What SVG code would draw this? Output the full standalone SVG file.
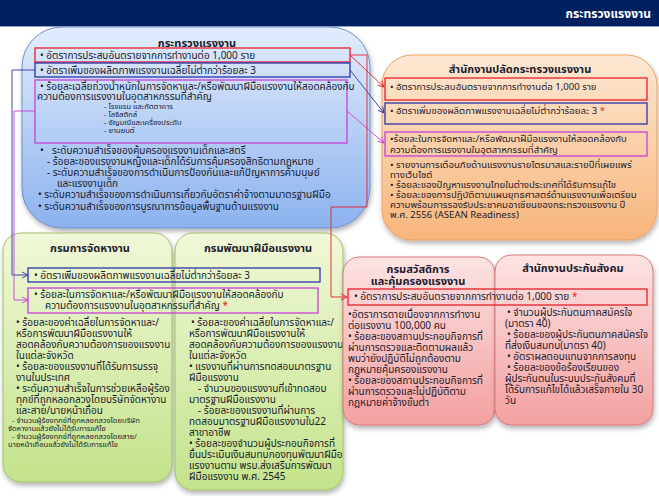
<svg xmlns="http://www.w3.org/2000/svg" width="659" height="496" viewBox="0 0 659 496">
<style>
.t{font-family:Tahoma,"Noto Sans Thai","Noto Sans Thai UI","Noto Sans","DejaVu Sans",sans-serif;font-size:10px;fill:#1c1c2c;}
.o{font-family:Tahoma,"Noto Sans Thai","Noto Sans Thai UI","Noto Sans","DejaVu Sans",sans-serif;font-size:9.6px;fill:#1c1c2c;}
.h{font-family:Tahoma,"Noto Sans Thai","Noto Sans Thai UI","Noto Sans","DejaVu Sans",sans-serif;font-size:11px;font-weight:bold;fill:#1c1c2c;}
.s{font-family:Tahoma,"Noto Sans Thai","Noto Sans Thai UI","Noto Sans","DejaVu Sans",sans-serif;font-size:7.6px;fill:#1c1c2c;}
.star{fill:#e8202a;}
.rb{fill:none;stroke:#e8202a;stroke-width:1.3;}
.bb{fill:none;stroke:#2b35a8;stroke-width:1.3;}
.pb{fill:none;stroke:#c640d8;stroke-width:1.3;}
.rl{fill:none;stroke:#e8202a;stroke-width:0.9;}
.bl{fill:none;stroke:#2b35a8;stroke-width:0.9;}
.pl{fill:none;stroke:#c640d8;stroke-width:0.9;}
</style>
<defs>
<linearGradient id="gBlue" x1="0" y1="0" x2="0" y2="1"><stop offset="0" stop-color="#e2edfc"/><stop offset="1" stop-color="#8cb2ee"/></linearGradient>
<linearGradient id="gOrange" x1="0" y1="0" x2="0" y2="1"><stop offset="0" stop-color="#fde8d4"/><stop offset="1" stop-color="#f8b57a"/></linearGradient>
<linearGradient id="gGreen" x1="0" y1="0" x2="0" y2="1"><stop offset="0" stop-color="#f0f8d8"/><stop offset="1" stop-color="#c4e38c"/></linearGradient>
<linearGradient id="gPink" x1="0" y1="0" x2="0" y2="1"><stop offset="0" stop-color="#fde3e3"/><stop offset="1" stop-color="#f3a0a0"/></linearGradient>
<filter id="sh" x="-10%" y="-10%" width="120%" height="125%"><feDropShadow dx="1" dy="3" stdDeviation="2.5" flood-color="#000" flood-opacity="0.3"/></filter>
<marker id="aR" markerWidth="8" markerHeight="8" refX="7" refY="4" orient="auto" markerUnits="userSpaceOnUse"><path d="M1,1 L7,4 L1,7" fill="none" stroke="#e8202a" stroke-width="0.9"/></marker>
<marker id="aB" markerWidth="8" markerHeight="8" refX="7" refY="4" orient="auto" markerUnits="userSpaceOnUse"><path d="M1,1 L7,4 L1,7" fill="none" stroke="#2b35a8" stroke-width="0.9"/></marker>
<marker id="aP" markerWidth="8" markerHeight="8" refX="7" refY="4" orient="auto" markerUnits="userSpaceOnUse"><path d="M1,1 L7,4 L1,7" fill="none" stroke="#c640d8" stroke-width="0.9"/></marker>
</defs>
<rect x="0" y="0" width="659" height="496" fill="#ffffff"/>
<g id="header">
<rect x="0" y="0" width="659" height="26" fill="#00205f"/>
<rect x="0" y="26" width="659" height="1" fill="#8da0c8"/>
<text x="651" y="18" text-anchor="end" style="font-family:Tahoma,'Noto Sans Thai','DejaVu Sans',sans-serif;font-size:12px;font-weight:bold;fill:#ffffff;">กระทรวงแรงงาน</text>
</g>
<g id="ministry">
<rect x="22" y="27" width="348" height="201" rx="40" fill="url(#gBlue)" stroke="#6f8fca" stroke-width="1" filter="url(#sh)"/>
<text x="197" y="47" text-anchor="middle" class="h">กระทรวงแรงงาน</text>
<rect x="35" y="48" width="315" height="14" class="rb"/>
<text x="40" y="59" class="t">• อัตราการประสบอันตรายจากการทำงานต่อ 1,000 ราย</text>
<rect x="35" y="63" width="315" height="14" class="bb"/>
<text x="40" y="74" class="t">• อัตราเพิ่มของผลิตภาพแรงงานเฉลี่ยไม่ต่ำกว่าร้อยละ 3</text>
<rect x="35" y="80" width="312" height="63" class="pb"/>
<text x="40" y="90" class="t">• ร้อยละเฉลี่ยถ่วงน้ำหนักในการจัดหาและ/หรือพัฒนาฝีมือแรงงานให้สอดคล้องกับ</text>
<text x="37" y="100" class="t">ความต้องการแรงงานในอุตสาหกรรมที่สำคัญ</text>
<text x="104" y="109" class="s">- โรงแรม และภัตตาคาร</text>
<text x="104" y="117" class="s">- โลจิสติกส์</text>
<text x="104" y="125" class="s">- อัญมณีและเครื่องประดับ</text>
<text x="104" y="133" class="s">- ยานยนต์</text>
<text x="40" y="154" class="t">•</text>
<text x="52" y="154" class="t">ระดับความสำเร็จของคุ้มครองแรงงานเด็กและสตรี</text>
<text x="47" y="165" class="t">- ร้อยละของแรงงานหญิงและเด็กได้รับการคุ้มครองสิทธิตามกฎหมาย</text>
<text x="47" y="176" class="t">- ระดับความสำเร็จของการดำเนินการป้องกันและแก้ปัญหาการค้ามนุษย์</text>
<text x="57" y="187" class="t">และแรงงานเด็ก</text>
<text x="38" y="198" class="t">• ระดับความสำเร็จของการดำเนินการเกี่ยวกับอัตราค่าจ้างตามมาตรฐานฝีมือ</text>
<text x="38" y="210" class="t">• ระดับความสำเร็จของการบูรณาการข้อมูลพื้นฐานด้านแรงงาน</text>
</g>
<g id="permsec">
<rect x="382" y="55" width="275" height="185" rx="30" fill="url(#gOrange)" stroke="#f0a25c" stroke-width="1" filter="url(#sh)"/>
<text x="520" y="73" text-anchor="middle" class="h">สำนักงานปลัดกระทรวงแรงงาน</text>
<rect x="385" y="78" width="262" height="22" class="rb"/>
<text x="390" y="90" class="o">• อัตราการประสบอันตรายจากการทำงานต่อ 1,000  ราย</text>
<rect x="385" y="103" width="262" height="21" class="bb"/>
<text x="390" y="114" class="o">• อัตราเพิ่มของผลิตภาพแรงงานเฉลี่ยไม่ต่ำกว่าร้อยละ 3 <tspan class="star">*</tspan></text>
<rect x="385" y="132" width="262" height="24" class="pb"/>
<text x="390" y="142" class="o">•ร้อยละในการจัดหาและ/หรือพัฒนาฝีมือแรงงานให้สอดคล้องกับ</text>
<text x="390" y="153" class="o">ความต้องการแรงงานในอุตสาหกรรมที่สำคัญ</text>
<text x="390" y="168" class="o">• รายงานการเตือนภัยด้านแรงงานรายไตรมาสและรายปีที่เผยแพร่</text>
<text x="390" y="178" class="o">ทางเว็บไซต์</text>
<text x="390" y="188" class="o">• ร้อยละของปัญหาแรงงานไทยในต่างประเทศที่ได้รับการแก้ไข</text>
<text x="390" y="198" class="o">• ร้อยละของการปฏิบัติตามแผนยุทธศาสตร์ด้านแรงงานเพื่อเตรียม</text>
<text x="390" y="208" class="o">ความพร้อมการรองรับประชาคมอาเซียนของกระทรวงแรงงาน ปี</text>
<text x="390" y="218" class="o">พ.ศ. 2556 (ASEAN Readiness)</text>
</g>
<g id="employment">
<rect x="3" y="233" width="169" height="249" rx="18" fill="url(#gGreen)" stroke="#a3c067" stroke-width="1" filter="url(#sh)"/>
<text x="90" y="252" text-anchor="middle" class="h">กรมการจัดหางาน</text>
<text x="16" y="326" class="t">• ร้อยละของค่าเฉลี่ยในการจัดหาและ/</text>
<text x="16" y="337" class="t">หรือการพัฒนาฝีมือแรงงานให้</text>
<text x="16" y="348" class="t">สอดคล้องกับความต้องการของแรงงาน</text>
<text x="16" y="359" class="t">ในแต่ละจังหวัด</text>
<text x="16" y="370" class="t">• ร้อยละของแรงงานที่ได้รับการบรรจุ</text>
<text x="16" y="381" class="t">งานในประเทศ</text>
<text x="16" y="392" class="t">• ระดับความสำเร็จในการช่วยเหลือผู้ร้อง</text>
<text x="16" y="403" class="t">ทุกข์ที่ถูกหลอกลวงโดยบริษัทจัดหางาน</text>
<text x="16" y="414" class="t">และสาย/นายหน้าเถื่อน</text>
<text x="12" y="423" class="s">- จำนวนผู้ร้องทุกข์ที่ถูกหลอกลวงโดยบริษัท</text>
<text x="8" y="431" class="s">จัดหางานแล้วยังไม่ได้รับการแก้ไข</text>
<text x="12" y="439" class="s">- จำนวนผู้ร้องทุกข์ที่ถูกหลอกลวงโดยสาย/</text>
<text x="8" y="447" class="s">นายหน้าเถื่อนแล้วยังไม่ได้รับการแก้ไข</text>
</g>
<g id="skilldev">
<rect x="175" y="233" width="168" height="257" rx="18" fill="url(#gGreen)" stroke="#a3c067" stroke-width="1" filter="url(#sh)"/>
<text x="258" y="252" text-anchor="middle" class="h">กรมพัฒนาฝีมือแรงงาน</text>
<text x="191" y="326" class="t">• ร้อยละของค่าเฉลี่ยในการจัดหาและ/</text>
<text x="189" y="337" class="t">หรือการพัฒนาฝีมือแรงงานให้</text>
<text x="189" y="348" class="t">สอดคล้องกับความต้องการของแรงงาน</text>
<text x="189" y="359" class="t">ในแต่ละจังหวัด</text>
<text x="189" y="370" class="t">• แรงงานที่ผ่านการทดสอบมาตรฐาน</text>
<text x="189" y="381" class="t">ฝีมือแรงงาน</text>
<text x="198" y="392" class="t">- จำนวนของแรงงานที่เข้าทดสอบ</text>
<text x="189" y="403" class="t">มาตรฐานฝีมือแรงงาน</text>
<text x="198" y="414" class="t">- ร้อยละของแรงงานที่ผ่านการ</text>
<text x="189" y="425" class="t">ทดสอบมาตรฐานฝีมือแรงงานใน22</text>
<text x="189" y="436" class="t">สาขาอาชีพ</text>
<text x="189" y="447" class="t">• ร้อยละของจำนวนผู้ประกอบกิจการที่</text>
<text x="189" y="458" class="t">ยื่นประเมินเงินสมทบกองทุนพัฒนาฝีมือ</text>
<text x="189" y="469" class="t">แรงงานตาม พรบ.ส่งเสริมการพัฒนา</text>
<text x="189" y="480" class="t">ฝีมือแรงงาน พ.ศ. 2545</text>
</g>
<g id="welfare">
<rect x="343" y="257" width="152" height="168" rx="16" fill="url(#gPink)" stroke="#d97b7b" stroke-width="1" filter="url(#sh)"/>
<text x="418" y="273" text-anchor="middle" class="h">กรมสวัสดิการ</text>
<text x="418" y="285" text-anchor="middle" class="h">และคุ้มครองแรงงาน</text>
<text x="348" y="318" class="t">•อัตราการตายเนื่องจากการทำงาน</text>
<text x="348" y="329" class="t">ต่อแรงงาน 100,000  คน</text>
<text x="348" y="340" class="t">• ร้อยละของสถานประกอบกิจการที่</text>
<text x="348" y="351" class="t">ผ่านการตรวจและติดตามผลแล้ว</text>
<text x="348" y="362" class="t">พบว่ายังปฏิบัติไม่ถูกต้องตาม</text>
<text x="348" y="373" class="t">กฎหมายคุ้มครองแรงงาน</text>
<text x="348" y="384" class="t">• ร้อยละของสถานประกอบกิจการที่</text>
<text x="348" y="395" class="t">ผ่านการตรวจและไม่ปฏิบัติตาม</text>
<text x="348" y="406" class="t">กฎหมายค่าจ้างขั้นต่ำ</text>
</g>
<g id="sso">
<rect x="495" y="255" width="158" height="170" rx="16" fill="url(#gPink)" stroke="#d97b7b" stroke-width="1" filter="url(#sh)"/>
<text x="573" y="272" text-anchor="middle" class="h">สำนักงานประกันสังคม</text>
<text x="507" y="316" class="t">• จำนวนผู้ประกันตนภาคสมัครใจ</text>
<text x="505" y="327" class="t">(มาตรา 40)</text>
<text x="507" y="338" class="t">• ร้อยละของผู้ประกันตนภาคสมัครใจ</text>
<text x="505" y="349" class="t">ที่ส่งเงินสมทบ(มาตรา 40)</text>
<text x="507" y="360" class="t">• อัตราผลตอบแทนจากการลงทุน</text>
<text x="507" y="371" class="t">• ร้อยละของข้อร้องเรียนของ</text>
<text x="505" y="382" class="t">ผู้ประกันตนในระบบประกันสังคมที่</text>
<text x="505" y="393" class="t">ได้รับการแก้ไขได้แล้วเสร็จภายใน 30</text>
<text x="505" y="404" class="t">วัน</text>
</g>
<g id="shared-green-productivity">
<rect x="28" y="268" width="292" height="14" class="bb"/>
<text x="34" y="279" class="t">• อัตราเพิ่มของผลิตภาพแรงงานเฉลี่ยไม่ต่ำกว่าร้อยละ 3</text>
</g>
<g id="shared-green-skills">
<rect x="28" y="288" width="290" height="25" class="pb"/>
<text x="34" y="298" class="t">•  ร้อยละในการจัดหาและ/หรือพัฒนาฝีมือแรงงานให้สอดคล้องกับ</text>
<text x="45" y="309" class="t">ความต้องการแรงงานในอุตสาหกรรมที่สำคัญ <tspan class="star">*</tspan></text>
</g>
<g id="shared-pink-accident">
<rect x="348" y="289" width="299" height="16" class="rb"/>
<text x="354" y="300" class="t">• อัตราการประสบอันตรายจากการทำงานต่อ 1,000 ราย  <tspan class="star">*</tspan></text>
</g>
<g id="connectors">
<path d="M350,55 L384,87" class="rl" marker-end="url(#aR)"/>
<path d="M350,70 L384,113" class="bl" marker-end="url(#aB)"/>
<path d="M347,111 L384,143" class="pl" marker-end="url(#aP)"/>
<path d="M350,55 L367,55 L367,207 L331,207 L331,297 L347,297" class="rl" marker-end="url(#aR)"/>
<path d="M35,70 L12,70 L12,275 L28,275" class="bl" marker-end="url(#aB)"/>
<path d="M35,111 L14,111 L14,300 L28,300" class="pl" marker-end="url(#aP)"/>
</g>
</svg>
